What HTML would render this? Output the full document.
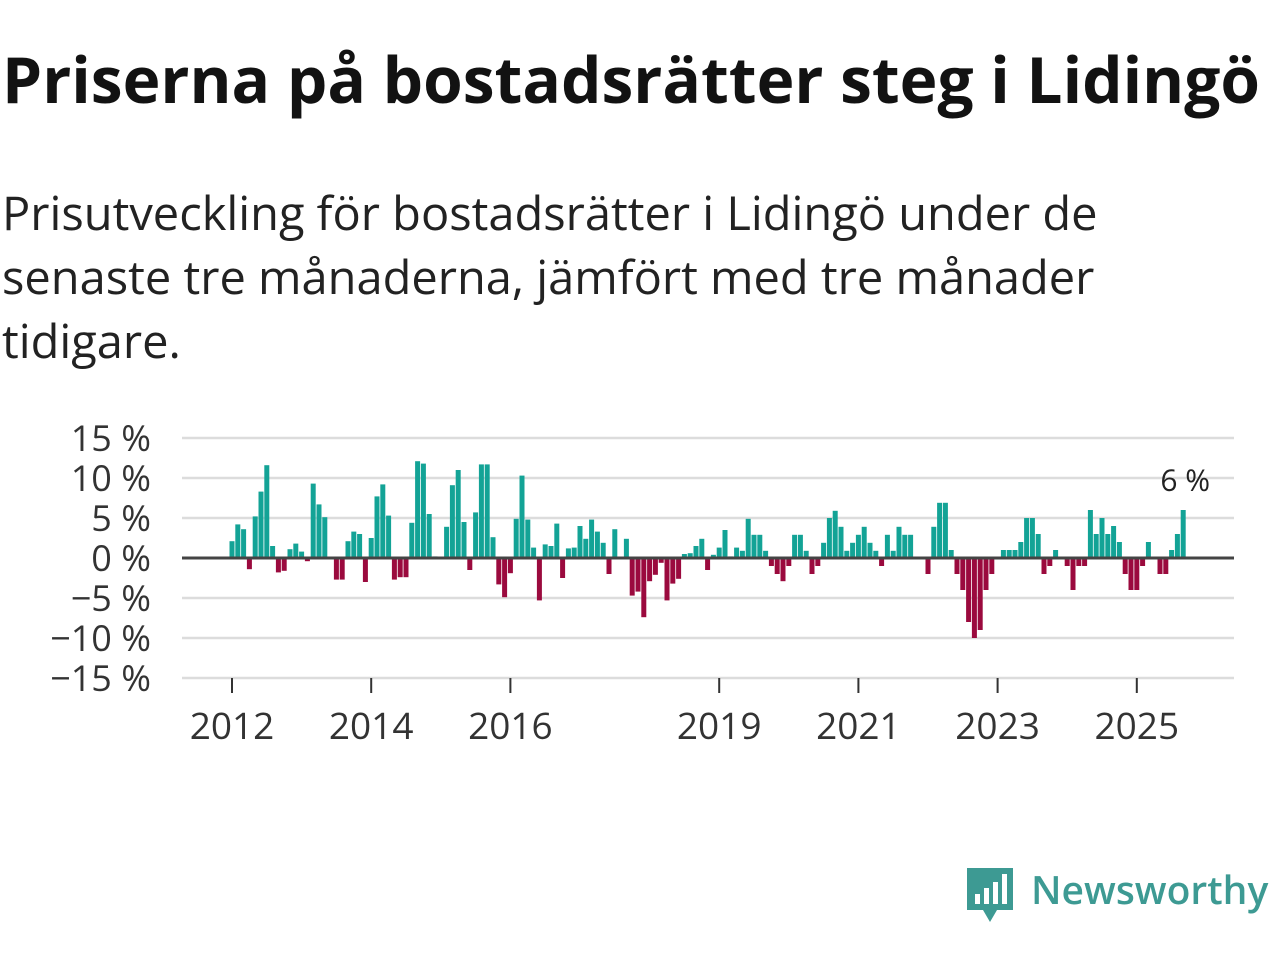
<!DOCTYPE html>
<html><head><meta charset="utf-8"><style>
body{margin:0;width:1280px;height:960px;background:#fff;font-family:"Open Sans","Liberation Sans",sans-serif;overflow:hidden;position:relative}
h1{position:absolute;left:2px;top:35px;margin:0;font-size:64px;font-weight:bold;color:#121212;white-space:nowrap}
.sub{position:absolute;left:2px;top:180px;margin:0;font-size:47px;line-height:64px;color:#222;width:1180px}
</style></head><body>
<h1>Priserna på bostadsrätter steg i Lidingö</h1>
<p class="sub">Prisutveckling för bostadsrätter i Lidingö under de senaste tre månaderna, jämfört med tre månader tidigare.</p>
<svg id="chart" width="1280" height="960" style="position:absolute;left:0;top:0"></svg>
<div style="position:absolute;left:965px;top:866px;height:60px">
<svg width="50" height="60" style="position:absolute;left:0;top:0"><path d="M2 2h46v42H32l-7 12-7-12H2z" fill="#3d9a93"/><rect x="10" y="28" width="5" height="10" fill="#fff"/><rect x="19" y="22" width="5" height="16" fill="#fff"/><rect x="28" y="16" width="5" height="22" fill="#fff"/><rect x="37" y="8" width="5" height="30" fill="#fff"/></svg>
<span style="position:absolute;left:66px;top:-3px;font-size:39px;font-weight:600;color:#3d9a93;white-space:nowrap">Newsworthy</span></div>
<script>
const values=[2.1,4.2,3.6,-1.4,5.2,8.3,11.6,1.5,-1.8,-1.6,
1.1,1.8,0.8,-0.4,9.3,6.7,5.1,0,-2.7,-2.7,
2.1,3.3,3.0,-3.0,2.5,7.7,9.2,5.3,-2.7,-2.4,
-2.4,4.4,12.1,11.8,5.5,0.2,0,3.9,9.1,11.0,
4.5,-1.5,5.7,11.7,11.7,2.6,-3.3,-4.9,-1.9,4.9,
10.3,4.8,1.3,-5.3,1.7,1.5,4.3,-2.5,1.2,1.3,
4.0,2.4,4.8,3.3,1.9,-2.0,3.6,0,2.4,-4.7,
-4.2,-7.4,-2.9,-2.1,-0.6,-5.3,-3.2,-2.6,0.5,0.6,
1.5,2.4,-1.5,0.4,1.3,3.5,0.2,1.3,0.9,4.9,
2.9,2.9,0.9,-1.0,-2.0,-2.9,-1.0,2.9,2.9,0.9,
-2.0,-1.0,1.9,5.0,5.9,3.9,0.9,1.9,2.9,3.9,
1.9,0.9,-1.0,2.9,0.9,3.9,2.9,2.9,0,0,-2.0,
3.9,6.9,6.9,1.0,-2,-4,-8,-10,-9,-4,
-2,0,1,1,1,2,5,5,3,-2,
-1,1,0,-1,-4,-1,-1,6,3,5,
3,4,2,-2,-4,-4,-1,2,0,-2,
-2,1,3,6];
const yTicks=[15,10,5,0,-5,-10,-15];
const yLabels=["15 %","10 %","5 %","0 %","\u22125 %","\u221210 %","\u221215 %"];
const xYears=[2012,2014,2016,2019,2021,2023,2025];
const startYear=2012;
const ns="http://www.w3.org/2000/svg";
const svg=document.getElementById('chart');
const x0=232,pxMonth=5.8,y0=558,pxPct=8;
const xs=i=>x0+i*pxMonth;
const ys=v=>y0-v*pxPct;
function mk(t,a){const e=document.createElementNS(ns,t);for(const k in a)e.setAttribute(k,a[k]);svg.appendChild(e);return e;}
yTicks.forEach((t,i)=>{
 if(t!==0){const g=mk('line',{x1:182,x2:1234,y1:ys(t),y2:ys(t),stroke:'#dcdcdc','stroke-width':2.5});
 
 }
 const l=mk('text',{x:151,y:ys(t)+13,'text-anchor':'end','font-size':36,fill:'#333','font-family':'"Open Sans","Liberation Sans",sans-serif'});
 l.textContent=yLabels[i];
 
 
});
values.forEach((v,i)=>{
 const r=mk('rect',{x:xs(i)-2.5,y:Math.min(ys(v),y0),width:5,height:Math.abs(v*pxPct),fill:v>=0?'#13a396':'#9b0a3e'});
 
 
});
const ax=mk('line',{x1:182,x2:1234,y1:y0,y2:y0,stroke:'#444','stroke-width':3});


xYears.forEach(yr=>{
 const x=xs((yr-startYear)*12);
 const t=mk('line',{x1:x,x2:x,y1:678,y2:693,stroke:'#333','stroke-width':2});
 
 
 const l=mk('text',{x:x,y:739,'text-anchor':'middle','font-size':37,fill:'#333','font-family':'"Open Sans","Liberation Sans",sans-serif'});
 l.textContent=yr;
 
 
});
const li=values.length-1;
const lab=mk('text',{x:xs(li)+2,y:ys(values[li])-19,'text-anchor':'middle','font-size':30,fill:'#222','font-family':'"Open Sans","Liberation Sans",sans-serif'});
lab.textContent=Math.round(values[li])+' %';


</script>
</body></html>
